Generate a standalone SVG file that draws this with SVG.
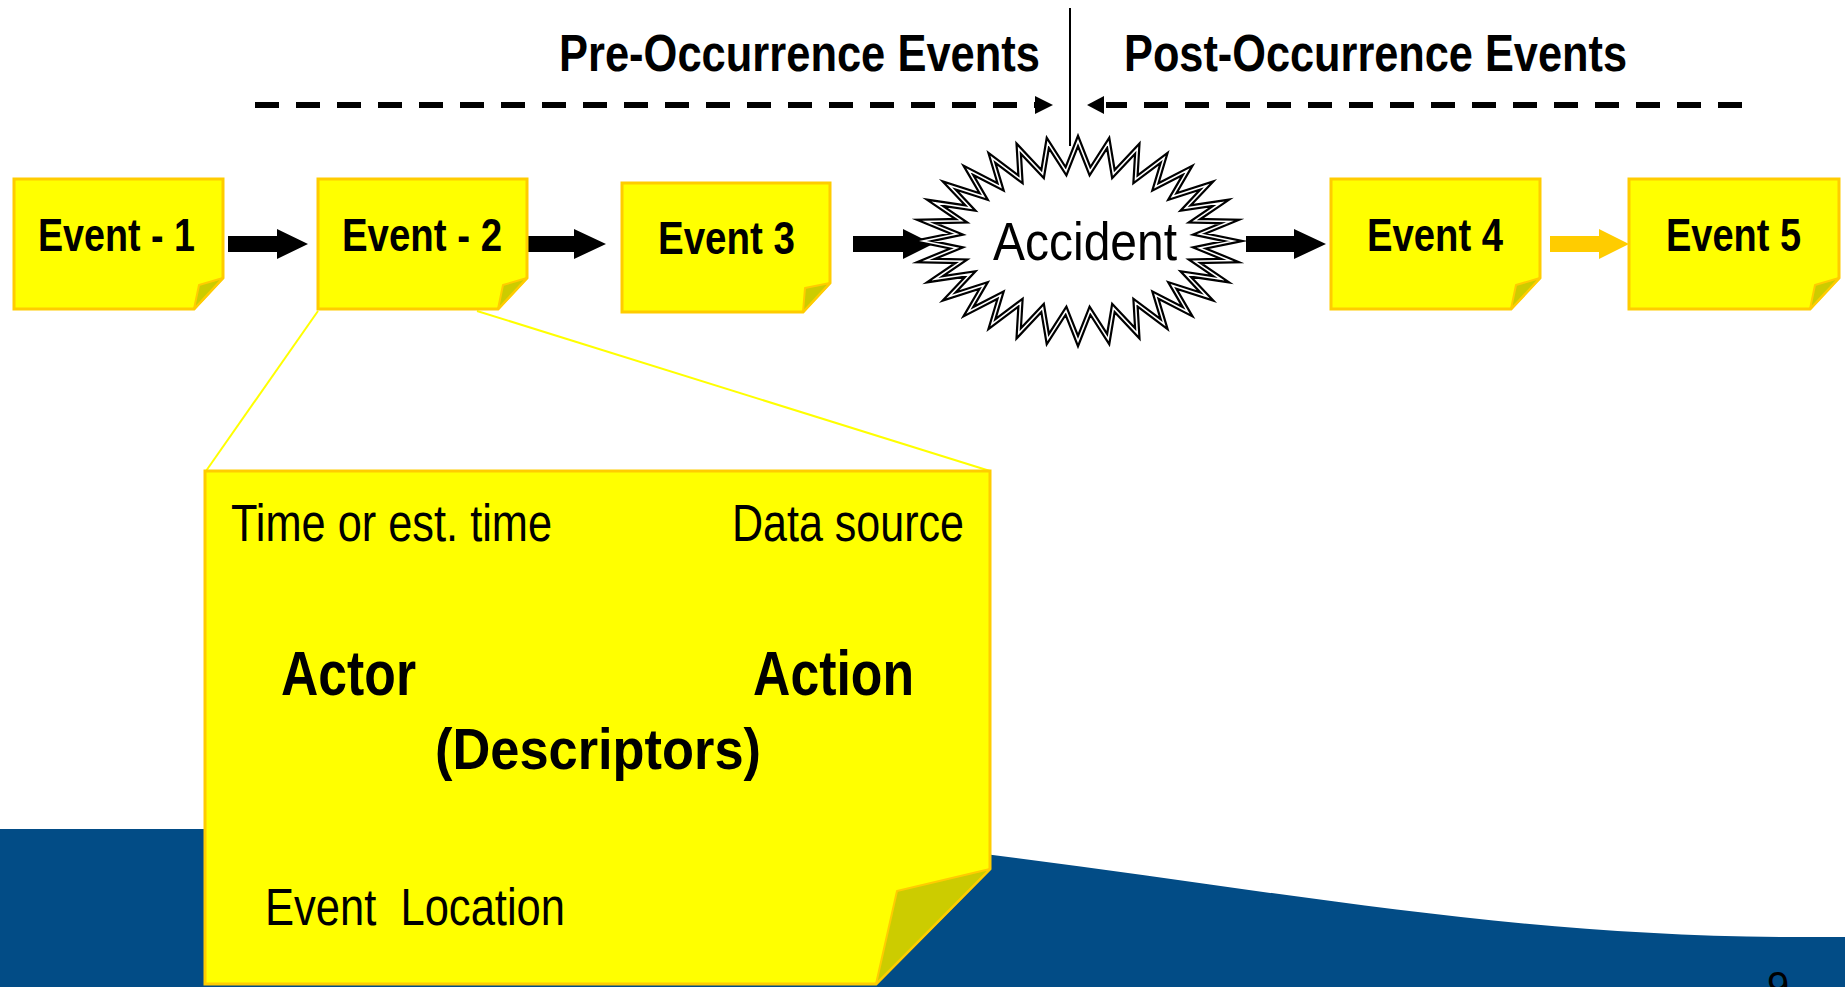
<svg xmlns="http://www.w3.org/2000/svg" xmlns:xlink="http://www.w3.org/1999/xlink" width="1845" height="987" viewBox="0 0 1845 987">
<style>
.note{fill:#FFFF00;stroke:#FFCC00;stroke-width:3;stroke-linejoin:miter}
.fold{fill:#CCCC00;stroke:#FFCC00;stroke-width:2;stroke-linejoin:round}
.t{font-family:"Liberation Sans Narrow","Arial Narrow","Liberation Sans",sans-serif;fill:#000}
.b{font-weight:bold}
.arr{fill:#000}
.arrO{fill:#FFCC00}
.dash{stroke:#000;stroke-width:6;stroke-dasharray:24 17;fill:none}
.link{stroke:#FFFF00;stroke-width:2;fill:none}
</style>
<defs>
<polygon id="starShape" points="1233,241 1199.4,247.9 1230,260.5 1194.7,261.3 1221.2,279.3 1185.6,274 1206.9,296.6 1172.3,285.4 1187.6,311.7 1155.4,295.1 1164.1,324.1 1135.5,302.7 1137.3,333.4 1113.4,308 1108.2,339.1 1090,310.7 1078,341 1066,310.7 1047.8,339.1 1042.6,308 1018.7,333.4 1020.5,302.7 991.9,324.1 1000.6,295.1 968.4,311.7 983.7,285.4 949.1,296.6 970.4,274 934.8,279.3 961.3,261.3 926,260.5 956.6,247.9 923,241 956.6,234.1 926,221.5 961.3,220.7 934.8,202.7 970.4,208 949.1,185.4 983.7,196.6 968.4,170.3 1000.6,186.9 991.9,157.9 1020.5,179.3 1018.7,148.6 1042.6,174 1047.8,142.9 1066,171.3 1078,141 1090,171.3 1108.2,142.9 1113.4,174 1137.3,148.6 1135.5,179.3 1164.1,157.9 1155.4,186.9 1187.6,170.3 1172.3,196.6 1206.9,185.4 1185.6,208 1221.2,202.7 1194.7,220.7 1230,221.5 1199.4,234.1"/>
</defs>
<rect x="0" y="0" width="1845" height="987" fill="#FFFFFF"/>
<path id="wave" d="M0,829 L600,829 C1037,829 1363,937 1800,937 L1845,937 L1845,987 L0,987 Z" fill="#024C86"/>
<text class="t" x="1767" y="1000" font-size="40">9</text>

<g id="timeline">
<text class="t b" x="559" y="71" font-size="52" textLength="481" lengthAdjust="spacingAndGlyphs">Pre-Occurrence Events</text>
<text class="t b" x="1124" y="71" font-size="52" textLength="503" lengthAdjust="spacingAndGlyphs">Post-Occurrence Events</text>
<line x1="1070" y1="8" x2="1070" y2="146" stroke="#000" stroke-width="2"/>
<line class="dash" x1="255" y1="105" x2="1035" y2="105"/>
<polygon points="1035,96 1053,105 1035,114" fill="#000"/>
<line class="dash" x1="1742" y1="105" x2="1106" y2="105"/>
<polygon points="1104,96 1087,105 1104,114" fill="#000"/>
</g>

<g id="connectors">
<polygon class="arr" points="228,236 277,236 277,229 308,244 277,259 277,252 228,252"/>
<polygon class="arr" points="527,236 574,236 574,229 606,244 574,259 574,252 527,252"/>
<polygon class="arr" points="853,236 903,236 903,229 933,244 903,259 903,252 853,252"/>
<polygon class="arr" points="1246,236 1294,236 1294,229 1326,244 1294,259 1294,252 1246,252"/>
<polygon class="arrO" points="1550,236 1599,236 1599,229 1629,244 1599,259 1599,252 1550,252"/>
<line class="link" x1="318" y1="311" x2="206" y2="471"/>
<line class="link" x1="477" y1="311" x2="990" y2="471"/>
</g>

<g id="event1">
<polygon class="note" points="14,179 223,179 223,278 194,309 14,309"/>
<polygon class="fold" points="223,278 199,285 194,309"/>
<text class="t b" x="38" y="251" font-size="46" textLength="157" lengthAdjust="spacingAndGlyphs">Event - 1</text>
</g>
<g id="event2">
<polygon class="note" points="318,179 527,179 527,278 498,309 318,309"/>
<polygon class="fold" points="527,278 503,285 498,309"/>
<text class="t b" x="342" y="251" font-size="46" textLength="160" lengthAdjust="spacingAndGlyphs">Event - 2</text>
</g>
<g id="event3">
<polygon class="note" points="622,183 830,183 830,283 803,312 622,312"/>
<polygon class="fold" points="830,283 805,288 803,312"/>
<text class="t b" x="658" y="254" font-size="46" textLength="137" lengthAdjust="spacingAndGlyphs">Event 3</text>
</g>
<g id="accident">
<use xlink:href="#starShape" fill="#FFFFFF" stroke="#000" stroke-width="6" stroke-linejoin="miter" stroke-miterlimit="20"/>
<use xlink:href="#starShape" fill="none" stroke="#FFFFFF" stroke-width="1.6" stroke-linejoin="miter" stroke-miterlimit="20"/>
<text class="t" x="993" y="260" font-size="53" textLength="184" lengthAdjust="spacingAndGlyphs">Accident</text>
</g>
<g id="event4">
<polygon class="note" points="1331,179 1540,179 1540,278 1511,309 1331,309"/>
<polygon class="fold" points="1540,278 1516,285 1511,309"/>
<text class="t b" x="1367" y="251" font-size="46" textLength="136" lengthAdjust="spacingAndGlyphs">Event 4</text>
</g>
<g id="event5">
<polygon class="note" points="1629,179 1839,179 1839,278 1810,309 1629,309"/>
<polygon class="fold" points="1839,278 1815,285 1810,309"/>
<text class="t b" x="1666" y="251" font-size="46" textLength="135" lengthAdjust="spacingAndGlyphs">Event 5</text>
</g>

<g id="detail">
<polygon class="note" points="205,471 990,471 990,869 876,984 205,984"/>
<polygon class="fold" points="990,869 897,891 876,984"/>
<text class="t" x="231" y="541" font-size="51" textLength="321" lengthAdjust="spacingAndGlyphs">Time or est. time</text>
<text class="t" x="732" y="541" font-size="51" textLength="232" lengthAdjust="spacingAndGlyphs">Data source</text>
<text class="t b" x="281" y="695" font-size="63" textLength="135" lengthAdjust="spacingAndGlyphs">Actor</text>
<text class="t b" x="753" y="695" font-size="63" textLength="161" lengthAdjust="spacingAndGlyphs">Action</text>
<text class="t b" x="435" y="769" font-size="58" textLength="326" lengthAdjust="spacingAndGlyphs">(Descriptors)</text>
<text class="t" x="265" y="925" font-size="51" textLength="300" lengthAdjust="spacingAndGlyphs" xml:space="preserve">Event  Location</text>
</g>
</svg>
